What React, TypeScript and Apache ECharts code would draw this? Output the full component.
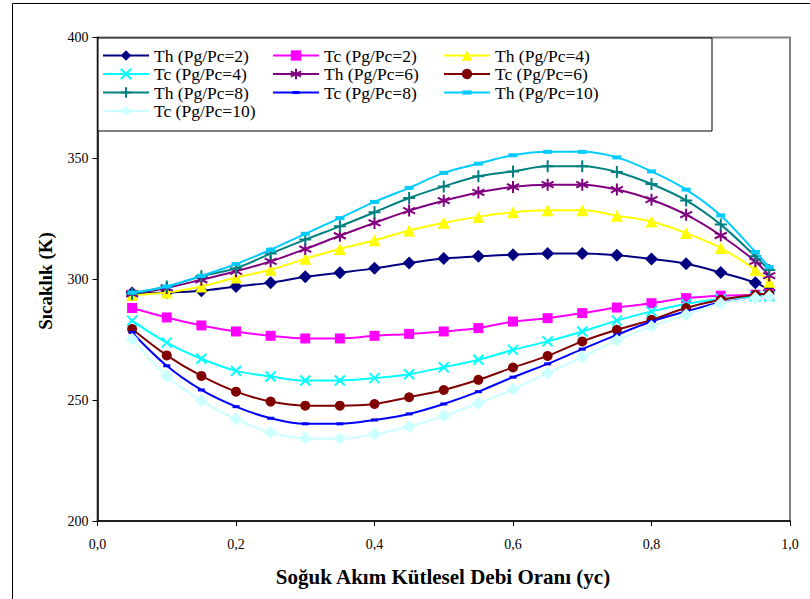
import React, { useEffect, useRef } from "react";
import * as echarts from "echarts";

const xValues = [0.05, 0.1, 0.15, 0.2, 0.25, 0.3, 0.35, 0.4, 0.45, 0.5, 0.55, 0.6, 0.65, 0.7, 0.75, 0.8, 0.85, 0.9, 0.95, 0.97];

const th2 = [294.3, 294.5, 295.2, 297, 298.6, 301, 302.7, 304.5, 306.7, 308.6, 309.5, 310.1, 310.6, 310.6, 309.9, 308.4, 306.4, 302.8, 298.6, 295.5];
const tc2 = [288.1, 284.2, 280.9, 278.4, 276.6, 275.5, 275.5, 276.6, 277.4, 278.4, 279.8, 282.5, 283.9, 286, 288.3, 290.1, 292.2, 293.2, 293.6, 294];
const th4 = [293.5, 294.5, 297, 300.7, 303.9, 308.5, 312.5, 316.1, 320.2, 323.4, 325.8, 327.7, 328.5, 328.5, 326.3, 323.9, 319.1, 312.9, 303.9, 299];
const tc4 = [282.9, 273.8, 267.1, 262.1, 259.8, 258.1, 258.1, 259.1, 260.7, 263.6, 266.7, 270.8, 274.3, 278.4, 282.9, 286.7, 289.8, 291.8, 292.9, 293];
const th6 = [294, 296.4, 299.8, 303.3, 307.4, 312.5, 318, 323.3, 328.4, 332.5, 335.9, 338.2, 339.1, 339.1, 337.1, 332.9, 326.7, 318.1, 307.4, 301.5];
const tc6 = [279.4, 268.5, 260, 253.5, 249.4, 247.7, 247.7, 248.4, 251.2, 254.2, 258.4, 263.5, 268.3, 274.3, 279.1, 283.2, 288.1, 291.5, 293.6, 294];
const th8 = [294, 297, 301.2, 304.6, 310.6, 316.4, 321.9, 327.7, 333.6, 338.4, 342.6, 344.6, 346.7, 346.7, 344.4, 339.4, 332.6, 322.6, 309.5, 303.8];
const tc8 = [278, 264.2, 254.2, 247.3, 242.5, 240.2, 240.2, 241.8, 244.3, 248.4, 253.5, 259.5, 265, 271.1, 277, 282.5, 286.7, 290.4, 292.2, 293];
const th10 = [294.5, 297, 301.4, 306.3, 312.2, 318.8, 325.3, 332, 337.8, 344, 347.8, 351.3, 352.7, 352.7, 350.4, 344.6, 337.1, 326.4, 311.3, 305];
const tc10 = [275.2, 260, 249.7, 242.2, 236.6, 234.2, 234, 235.9, 239.1, 243.5, 248.7, 254.5, 261.2, 267.8, 274.7, 280.5, 285.3, 290.1, 292.2, 292.9];

const seriesNames = [
  "Th (Pg/Pc=2)", "Tc (Pg/Pc=2)", "Th (Pg/Pc=4)",
  "Tc (Pg/Pc=4)", "Th (Pg/Pc=6)", "Tc (Pg/Pc=6)",
  "Th (Pg/Pc=8)", "Tc (Pg/Pc=8)", "Th (Pg/Pc=10)",
  "Tc (Pg/Pc=10)",
];
const seriesValues = [th2, tc2, th4, tc4, th6, tc6, th8, tc8, th10, tc10];

const xTicks = { min: 0, max: 1, interval: 0.2 };
const yTicks = { min: 200, max: 400, interval: 50 };

const FONT = "Liberation Serif";

const styles: any[] = [
  { color: "#000080", symbol: "diamond", size: 13, stroke: false },
  { color: "#FF00FF", symbol: "rect", size: 10, stroke: false },
  { color: "#FFFF00", symbol: "triangle", size: 12, stroke: false },
  { color: "#00FFFF", symbol: "path://M0,0L10,10M10,0L0,10", size: 10, stroke: true },
  { color: "#800080", symbol: "path://M5,0L5,10M0.7,2.5L9.3,7.5M0.7,7.5L9.3,2.5", size: 12, stroke: true },
  { color: "#800000", symbol: "circle", size: 10, stroke: false },
  { color: "#008080", symbol: "path://M5,0L5,12M0,6L10,6", size: 12, stroke: true },
  { color: "#0000FF", symbol: "path://M0,0M10,10M1.5,3.5L8.5,3.5L8.5,6.5L1.5,6.5Z", size: 10, stroke: false },
  { color: "#00CCFF", symbol: "path://M0,0M10,10M0.5,3L9.5,3L9.5,7L0.5,7Z", size: 10, stroke: false },
  { color: "#CCFFFF", symbol: "diamond", size: 13, stroke: false },
];

const legendCols = [102, 272, 443];
const legendRows = [55, 73.5, 92, 110.5];

export default function App() {
  const ref = useRef<HTMLDivElement>(null);
  useEffect(() => {
    if (!ref.current) return;
    const chart = echarts.init(ref.current, undefined, { renderer: "svg" });
    const series = seriesNames.map((name, i) => {
      const st = styles[i];
      return {
        name,
        type: "line",
        smooth: 0.35,
        data: xValues.map((x, j) => [x, seriesValues[i][j]]),
        symbol: st.symbol,
        symbolSize: st.size,
        showSymbol: true,
        lineStyle: { color: st.color, width: 2 },
        itemStyle: st.stroke
          ? { color: st.color, borderColor: st.color, borderWidth: 2 }
          : { color: st.color, borderWidth: 0 },
        emphasis: { disabled: true },
        z: 3 + i,
      };
    });
    const legends = seriesNames.map((name, i) => ({
      data: [name],
      left: legendCols[i % 3],
      top: legendRows[Math.floor(i / 3)] - 8.5,
      padding: 0,
      itemWidth: 46,
      itemHeight: 13,
      itemGap: 0,
      selectedMode: false,
      textStyle: { fontFamily: FONT, fontSize: 17.5, lineHeight: 17, color: "#000" },
    }));
    chart.setOption({
      animation: false,
      backgroundColor: "#fff",
      textStyle: { fontFamily: FONT },
      grid: {
        left: 97.5,
        right: 20,
        top: 37.5,
        bottom: 78,
        show: true,
        borderColor: "#808080",
        borderWidth: 2,
        backgroundColor: "transparent",
      },
      graphic: [
        {
          type: "rect",
          shape: { x: 12.5, y: 3.5, width: 900, height: 700 },
          style: { fill: "none", stroke: "#000", lineWidth: 1 },
          silent: true,
          z: 0,
        },
        {
          type: "rect",
          shape: { x: 98, y: 38, width: 614, height: 93 },
          style: { fill: "#fff", stroke: "#000", lineWidth: 1 },
          silent: true,
          z: 1,
        },
        {
          type: "text",
          x: 443,
          y: 577,
          style: {
            text: "Soğuk Akım Kütlesel Debi Oranı (yc)",
            fontFamily: FONT,
            fontSize: 21,
            fontWeight: "bold",
            fill: "#000",
            align: "center",
            verticalAlign: "middle",
          },
          z: 5,
        },
        {
          type: "text",
          x: 45,
          y: 281,
          rotation: Math.PI / 2,
          style: {
            text: "Sıcaklık (K)",
            fontFamily: FONT,
            fontSize: 19,
            fontWeight: "bold",
            fill: "#000",
            align: "center",
            verticalAlign: "middle",
          },
          z: 5,
        },
      ],
      legend: legends,
      xAxis: {
        type: "value",
        min: xTicks.min,
        max: xTicks.max,
        interval: xTicks.interval,
        axisLine: { show: true, lineStyle: { color: "#000", width: 1.5 } },
        axisTick: { show: true, length: 5, lineStyle: { color: "#000" } },
        splitLine: { show: false },
        axisLabel: {
          fontFamily: FONT,
          fontSize: 14,
          color: "#000",
          margin: 16,
          formatter: (v: number) => v.toFixed(1).replace(".", ","),
        },
      },
      yAxis: {
        type: "value",
        min: yTicks.min,
        max: yTicks.max,
        interval: yTicks.interval,
        axisLine: { show: true, lineStyle: { color: "#000", width: 1.5 } },
        axisTick: { show: true, length: 5, lineStyle: { color: "#000" } },
        splitLine: { show: false },
        axisLabel: { fontFamily: FONT, fontSize: 14, color: "#000", margin: 9 },
      },
      series,
    });
    return () => chart.dispose();
  }, []);
  return (
    <div
      ref={ref}
      style={{ position: "fixed", left: 0, top: 0, width: 810, height: 599 }}
    />
  );
}
